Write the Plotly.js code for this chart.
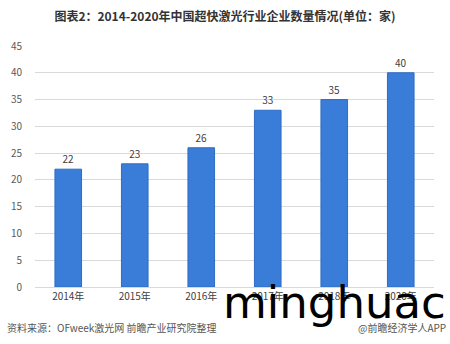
<!DOCTYPE html>
<html>
<head>
<meta charset="utf-8">
<script src="https://cdn.plot.ly/plotly-3.0.1.min.js"></script>
<style>html,body{margin:0;padding:0;background:#fff;}#chart{width:450px;height:344px;}</style>
</head>
<body>
<div id="chart"></div>
<script>
const years = ["2014年", "2015年", "2016年", "2017年", "2018年", "2020年"];
const counts = [22, 23, 26, 33, 35, 40];
const yTicks = [0, 5, 10, 15, 20, 25, 30, 35, 40, 45];
const titleText = "图表2：2014-2020年中国超快激光行业企业数量情况(单位：家)";
const sourceText = "资料来源：OFweek激光网 前瞻产业研究院整理";
const brandText = "@前瞻经济学人APP";
const overlayText = "minghuac";

const cjk = '"Microsoft YaHei", "Noto Sans CJK SC", sans-serif';

const trace = {
  type: 'bar',
  x: years,
  y: counts,
  text: counts.map(String),
  textposition: 'outside',
  cliponaxis: false,
  textfont: {family: cjk, size: 10, color: '#404040'},
  marker: {color: '#3a7dd9', line: {color: '#2f6cc2', width: 1}},
  hoverinfo: 'none'
};

const layout = {
  width: 450, height: 344,
  margin: {l: 35, r: 16, t: 46, b: 57},
  paper_bgcolor: '#ffffff', plot_bgcolor: '#ffffff',
  bargap: 0.6,
  showlegend: false,
  title: {text: '<b>' + titleText + '</b>', x: 0.5, xanchor: 'center', y: 0.952, yanchor: 'middle',
          font: {family: cjk, size: 12, color: '#333333'}},
  xaxis: {type: 'category', showgrid: false, showline: false, zeroline: false, ticks: '',
          tickfont: {family: cjk, size: 10, color: '#404040'}, ticklabelstandoff: 2},
  yaxis: {range: [0, 45], tickvals: yTicks, ticktext: yTicks.map(String), showgrid: true,
          gridcolor: '#d9d9d9', gridwidth: 1, zeroline: true, zerolinecolor: '#d9d9d9',
          showline: false, ticks: '', ticklabelstandoff: 12,
          tickfont: {family: cjk, size: 10, color: '#595959'}},
  annotations: [
    {text: sourceText, xref: 'paper', yref: 'paper', x: -0.075, y: -0.17, xanchor: 'left', yanchor: 'middle',
     showarrow: false, font: {family: cjk, size: 10, color: '#555555'}},
    {text: brandText, xref: 'paper', yref: 'paper', x: 1.035, y: -0.17, xanchor: 'right', yanchor: 'middle',
     showarrow: false, font: {family: cjk, size: 10, color: '#555555'}},
    {text: overlayText, xref: 'paper', yref: 'paper', x: 0.466, y: -0.066, xanchor: 'left', yanchor: 'middle',
     showarrow: false, font: {family: '"DejaVu Sans", sans-serif', size: 45, color: '#000000'}}
  ]
};

Plotly.newPlot('chart', [trace], layout, {displayModeBar: false, staticPlot: true});
</script>
</body>
</html>
